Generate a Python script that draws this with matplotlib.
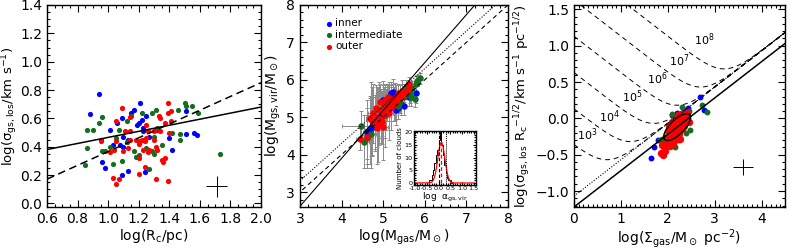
import matplotlib
matplotlib.use('Agg')
import matplotlib.pyplot as plt
import numpy as np
from matplotlib.ticker import MultipleLocator

BLUE = '#0000ff'
GREEN = '#146e1e'
RED = '#ff0000'

# ---- panel 1: sigma vs R_c ----
b1_x = [0.94, 0.88, 1.01, 1.06, 1.09, 1.17, 1.15, 1.21, 1.25, 1.20, 1.22, 1.19, 1.23, 1.23, 1.10, 1.13, 1.08,
        1.10, 1.03, 0.95, 0.96, 0.98, 1.09, 1.13, 1.24, 1.42, 1.40, 1.51, 1.56, 1.58, 1.51, 1.32, 1.27, 1.12]
b1_y = [0.77, 0.63, 0.52, 0.57, 0.60, 0.66, 0.64, 0.71, 0.62, 0.57, 0.59, 0.55, 0.53, 0.51, 0.47, 0.45, 0.41,
        0.40, 0.41, 0.45, 0.29, 0.25, 0.20, 0.23, 0.22, 0.38, 0.46, 0.49, 0.50, 0.48, 0.65, 0.52, 0.47, 0.43]
g1_x = [0.96, 0.94, 0.86, 0.90, 0.86, 0.85, 0.96, 0.98, 1.01, 1.07, 1.12, 1.15, 1.22, 1.29, 1.31, 1.32, 1.17,
        1.18, 1.27, 1.29, 1.30, 1.03, 1.12, 1.21, 1.23, 1.46, 1.50, 1.51, 1.55, 1.59, 1.47, 1.47, 1.42, 1.73,
        1.05, 1.09, 1.25, 1.35, 1.30, 1.20]
g1_y = [0.61, 0.57, 0.52, 0.52, 0.39, 0.27, 0.37, 0.37, 0.40, 0.52, 0.58, 0.62, 0.64, 0.64, 0.66, 0.53, 0.37,
        0.33, 0.24, 0.37, 0.35, 0.28, 0.43, 0.44, 0.45, 0.66, 0.71, 0.69, 0.69, 0.64, 0.49, 0.45, 0.50, 0.35,
        0.46, 0.30, 0.39, 0.41, 0.47, 0.34]
r1_x = [1.09, 1.05, 1.14, 1.11, 1.14, 1.25, 1.26, 1.33, 1.34, 1.37, 1.39, 1.39, 1.41, 1.41, 1.34, 1.30, 1.14,
        1.05, 0.95, 1.01, 1.04, 1.10, 1.13, 1.18, 1.20, 1.22, 1.24, 1.25, 1.30, 1.31, 1.27, 1.23, 1.32, 1.26,
        1.20, 1.24, 1.35, 1.37, 1.36, 1.03, 1.07, 1.05, 1.20, 1.31, 1.39, 1.40]
r1_y = [0.67, 0.58, 0.61, 0.51, 0.51, 0.55, 0.51, 0.62, 0.60, 0.57, 0.71, 0.64, 0.65, 0.58, 0.51, 0.51, 0.45,
        0.44, 0.44, 0.36, 0.38, 0.37, 0.39, 0.45, 0.42, 0.45, 0.44, 0.46, 0.45, 0.40, 0.38, 0.38, 0.38, 0.36,
        0.32, 0.26, 0.31, 0.32, 0.29, 0.18, 0.17, 0.14, 0.21, 0.17, 0.16, 0.50]
fit1_solid = (0.214, 0.252)    # slope, intercept
fit1_dash = (0.486, -0.12)
cross1 = (1.71, 0.12, 0.07, 0.075)

# ---- panel 2: virial mass vs gas mass ----
r2_x = [4.45, 4.62, 4.68, 4.72, 4.80, 4.84, 4.88, 4.90, 4.96, 5.00, 5.02, 5.05, 5.08, 5.10, 5.14, 5.18, 5.20,
        5.24, 5.28, 5.32, 5.36, 5.40, 5.45, 5.50, 5.55, 5.60, 5.62, 4.75, 4.85, 4.95, 5.05, 5.15, 4.92, 5.00,
        5.12, 4.70, 4.82, 5.25, 5.35, 5.45]
r2_y = [4.42, 4.47, 4.97, 4.90, 4.85, 5.01, 4.79, 5.20, 4.88, 5.15, 5.30, 5.05, 5.20, 5.35, 5.40, 5.25, 5.45,
        5.50, 5.42, 5.55, 5.50, 5.60, 5.58, 5.65, 5.70, 5.75, 5.88, 5.10, 4.70, 4.95, 5.45, 5.10, 5.40, 4.75,
        5.55, 4.95, 5.25, 5.35, 5.65, 5.70]
r2_ye = [0.30, 0.60, 0.55, 0.90, 0.70, 0.80, 1.00, 0.75, 0.60, 0.70, 0.50, 0.85, 0.55, 0.45, 0.40, 0.60, 0.35,
         0.40, 0.50, 0.30, 0.35, 0.25, 0.30, 0.25, 0.20, 0.25, 0.20, 0.80, 0.95, 0.65, 0.40, 0.70, 0.50, 0.90,
         0.35, 1.00, 0.60, 0.45, 0.25, 0.30]
r2_xe = [0.10, 0.08, 0.10, 0.12, 0.08, 0.15, 0.10, 0.08, 0.12, 0.10, 0.08, 0.10, 0.08, 0.12, 0.06, 0.08, 0.10,
         0.06, 0.08, 0.06, 0.05, 0.06, 0.05, 0.05, 0.05, 0.04, 0.04, 0.12, 0.10, 0.10, 0.06, 0.08, 0.08, 0.12,
         0.06, 0.10, 0.08, 0.06, 0.05, 0.05]
b2_x = [5.79, 5.58, 5.24, 5.15, 5.00, 5.28, 4.91, 4.68, 4.62, 4.72, 5.35, 5.42, 5.50, 5.10, 4.98, 5.20, 5.62, 5.30]
b2_y = [5.64, 5.68, 5.68, 5.55, 5.46, 5.41, 4.97, 4.66, 4.61, 4.75, 5.25, 5.35, 5.30, 5.35, 5.10, 5.65, 5.55, 5.20]
b2_ye = [0.25, 0.20, 0.35, 0.40, 0.50, 0.35, 0.70, 0.90, 0.85, 0.80, 0.30, 0.30, 0.25, 0.45, 0.60, 0.30, 0.25, 0.40]
b2_xe = [0.05, 0.05, 0.06, 0.08, 0.08, 0.06, 0.10, 0.12, 0.10, 0.10, 0.06, 0.05, 0.05, 0.08, 0.08, 0.06, 0.05, 0.06]
g2_x = [5.82, 5.88, 5.79, 5.68, 5.77, 5.64, 4.47, 4.62, 4.70, 4.80, 5.05, 5.20, 5.35, 5.55, 5.70, 4.95, 5.10,
        5.40, 5.50, 4.55]
g2_y = [5.98, 6.04, 5.90, 5.55, 5.48, 5.64, 4.77, 4.45, 4.55, 4.85, 5.05, 5.30, 5.30, 5.80, 5.78, 5.20, 5.50,
        5.40, 5.55, 4.35]
g2_ye = [0.15, 0.15, 0.20, 0.25, 0.20, 0.25, 0.40, 0.80, 0.90, 0.75, 0.60, 0.40, 0.35, 0.20, 0.20, 0.55, 0.40,
         0.30, 0.25, 0.70]
g2_xe = [0.04, 0.04, 0.05, 0.05, 0.05, 0.05, 0.45, 0.10, 0.12, 0.10, 0.08, 0.06, 0.06, 0.05, 0.04, 0.08, 0.06,
         0.06, 0.05, 0.10]
fit2_solid = (1.28, -1.22)

# inset histogram of log alpha_vir
hist_edges = [-0.42, -0.36, -0.30, -0.24, -0.18, -0.12, -0.06, 0.00, 0.06, 0.12, 0.18, 0.24, 0.30, 0.36,
              0.42, 0.48, 0.54, 0.60]
hist_counts = [1, 1, 3, 5, 8, 11, 13, 17, 20, 15, 11, 7, 4, 2, 1, 1, 0]
gauss_amp, gauss_mu, gauss_sig = 16.0, 0.12, 0.15
vline_black, vline_red, vline_dot = 0.0, 0.12, 0.30
inset_xticks = [-1.0, -0.5, 0.0, 0.5, 1.0, 1.5]
inset_xlabels = ['-1.0', '-0.5', '0.0', '0.5', '1.0', '1.5']

# ---- panel 3: sigma/R^0.5 vs Sigma_gas ----
r3_x = [1.85, 1.90, 1.95, 1.92, 2.00, 2.02, 2.05, 2.08, 2.10, 2.12, 2.15, 2.18, 2.20, 2.22, 2.25, 2.28, 2.30,
        2.32, 2.35, 2.38, 2.40, 2.05, 2.10, 2.15, 2.20, 2.25, 2.30, 2.00, 2.08, 2.18, 2.28, 2.35, 1.98, 2.12,
        2.22, 2.42, 2.03, 2.27, 1.88, 2.45]
r3_y = [-0.48, -0.50, -0.45, -0.40, -0.35, -0.25, -0.30, -0.20, -0.28, -0.15, -0.22, -0.10, -0.18, -0.05,
        -0.12, -0.02, -0.08, 0.05, -0.03, 0.02, 0.08, -0.38, -0.12, -0.30, 0.00, -0.22, -0.15, -0.18, -0.05,
        -0.25, 0.06, -0.10, -0.28, -0.35, 0.04, 0.00, -0.10, -0.28, -0.36, -0.05]
b3_x = [1.64, 1.71, 2.69, 2.78, 2.44, 2.01, 2.19, 2.33, 1.80, 2.35, 2.05, 2.25, 2.10]
b3_y = [-0.54, -0.39, 0.30, 0.115, 0.14, -0.25, 0.07, -0.02, -0.30, 0.12, -0.35, -0.30, 0.05]
g3_x = [2.73, 2.84, 2.30, 2.47, 2.08, 1.83, 1.94, 1.90, 2.40, 2.45, 2.00, 2.15, 1.87, 2.38]
g3_y = [0.18, 0.09, 0.15, -0.16, 0.06, -0.30, -0.25, -0.34, 0.05, 0.10, -0.38, -0.40, -0.28, -0.20]
fit3_solid = (0.5, -1.22)
fit3_dot = (0.5, -1.07)
pressures = [3, 4, 5, 6, 7, 8]
p_label_x = [0.29, 0.75, 1.25, 1.78, 2.25, 2.78]
p_label_y = [-0.23, 0.02, 0.30, 0.55, 0.80, 1.08]
cross3 = (3.61, -0.67, 0.21, 0.11)


def idl_style(ax, xmaj, xmin, ymaj, ymin, fs=10):
    ax.xaxis.set_major_locator(MultipleLocator(xmaj))
    ax.xaxis.set_minor_locator(MultipleLocator(xmin))
    ax.yaxis.set_major_locator(MultipleLocator(ymaj))
    ax.yaxis.set_minor_locator(MultipleLocator(ymin))
    ax.tick_params(which='both', direction='in', top=True, right=True, labelsize=fs, width=0.8)
    ax.tick_params(which='major', length=5)
    ax.tick_params(which='minor', length=2.5)
    for s in ax.spines.values():
        s.set_linewidth(1.0)


fig = plt.figure(figsize=(7.89, 2.52), dpi=100)
plt.rcParams['mathtext.default'] = 'regular'

ax1 = fig.add_axes([0.0596, 0.1786, 0.2712, 0.8016])
ax2 = fig.add_axes([0.3802, 0.1786, 0.2636, 0.8016])
ax3 = fig.add_axes([0.7275, 0.1786, 0.2674, 0.8016])

ms = 14

# panel 1
ax1.scatter(b1_x, b1_y, s=ms, c=BLUE, lw=0, zorder=3)
ax1.scatter(g1_x, g1_y, s=ms, c=GREEN, lw=0, zorder=3)
ax1.scatter(r1_x, r1_y, s=ms, c=RED, lw=0, zorder=3)
xx = np.array([0.6, 2.0])
ax1.plot(xx, fit1_solid[0] * xx + fit1_solid[1], color='k', lw=1.1, zorder=4)
ax1.plot(xx, fit1_dash[0] * xx + fit1_dash[1], color='k', lw=1.1, ls=(0, (5, 3)), zorder=4)
ax1.errorbar([cross1[0]], [cross1[1]], xerr=[cross1[2]], yerr=[cross1[3]], fmt='none', ecolor='k', elinewidth=0.7)
ax1.set_xlim(0.6, 2.0)
ax1.set_ylim(-0.025, 1.4)
idl_style(ax1, 0.2, 0.05, 0.2, 0.05)
ax1.set_xlabel(r'log(R$_c$/pc)', fontsize=10, labelpad=1)
ax1.set_ylabel(r'log($\sigma_{gs,los}$/km s$^{-1}$)', fontsize=9.5, labelpad=0)

# panel 2
for xs, ys, xe, ye in [(r2_x, r2_y, r2_xe, r2_ye), (b2_x, b2_y, b2_xe, b2_ye), (g2_x, g2_y, g2_xe, g2_ye)]:
    ax2.errorbar(xs, ys, xerr=xe, yerr=ye, fmt='none', ecolor='#8a8a8a', elinewidth=0.7, capsize=1.3,
                 capthick=0.7, zorder=2)
ax2.scatter(b2_x, b2_y, s=ms + 8, c=BLUE, lw=0, zorder=3, label='inner')
ax2.scatter(g2_x, g2_y, s=ms + 8, c=GREEN, lw=0, zorder=3, label='intermediate')
ax2.scatter(r2_x, r2_y, s=ms + 8, c=RED, lw=0, zorder=3, label='outer')
xx = np.array([2.5, 8.5])
ax2.plot(xx, fit2_solid[0] * xx + fit2_solid[1], color='k', lw=0.8, zorder=4)
ax2.plot(xx, xx, color='k', lw=0.8, ls=(0, (4, 3)), zorder=4)
ax2.plot(xx, xx + np.log10(2), color='k', lw=0.8, ls=(0, (1, 1.5)), zorder=4)
ax2.set_xlim(3, 8)
ax2.set_ylim(2.6, 8)
idl_style(ax2, 1, 0.2, 1, 0.2)
ax2.set_xlabel(r'log(M$_{gas}$/M$_\odot$)', fontsize=10, labelpad=1)
ax2.set_ylabel(r'log(M$_{gs,vir}$/M$_\odot$)', fontsize=10, labelpad=2)
ax2.legend(loc='upper left', bbox_to_anchor=(0.08, 0.97), frameon=False, fontsize=7.5, handletextpad=0.1,
           borderpad=0.2, labelspacing=0.15, handlelength=1.0, markerscale=0.8)

# inset
axi = fig.add_axes([0.5247, 0.2659, 0.0786, 0.2143])
axi.stairs(hist_counts, hist_edges, color='k', lw=0.7)
gx = np.linspace(-1.0, 1.5, 300)
axi.plot(gx, gauss_amp * np.exp(-0.5 * ((gx - gauss_mu) / gauss_sig) ** 2), color=RED, lw=0.9)
axi.plot([vline_black, vline_black], [0, 20], color='k', lw=0.8, ls=(0, (3, 2)))
axi.plot([vline_red, vline_red], [0, gauss_amp], color=RED, lw=0.9, ls=(0, (3, 2)))
axi.axvline(vline_dot, color='k', lw=0.7, ls=(0, (1, 1)))
axi.set_xlim(-1.05, 1.6)
axi.set_ylim(-0.8, 20.5)
idl_style(axi, 0.5, 0.1, 5, 1, fs=4.6)
axi.tick_params(which='major', length=2.5, pad=1)
axi.tick_params(which='minor', length=1.2)
axi.set_xticks(inset_xticks)
axi.set_xticklabels(inset_xlabels)
axi.set_xlabel(r'log  $\alpha_{gs,vir}$', fontsize=6.5, labelpad=0)
axi.set_ylabel('Number of clouds', fontsize=5, labelpad=1)

# panel 3
sx = np.linspace(0, 4.5, 400)
A = 10 ** (2 * fit3_dot[1])
for lp in pressures:
    sy = 0.5 * np.log10(A * (10 ** sx + 10 ** (lp - 1.6) / 10 ** sx))
    ax3.plot(sx, sy, color='k', lw=0.7, ls=(0, (5, 4)), zorder=2)
for lp, lx, ly in zip(pressures, p_label_x, p_label_y):
    ax3.text(lx, ly, r'10$^{%d}$' % lp, fontsize=8, ha='center', va='center')
xx = np.array([0, 4.5])
ax3.plot(xx, fit3_solid[0] * xx + fit3_solid[1], color='k', lw=1.1, zorder=4)
ax3.plot(xx, fit3_dot[0] * xx + fit3_dot[1], color='k', lw=0.8, ls=(0, (1, 1.5)), zorder=4)
ax3.scatter(b3_x, b3_y, s=ms + 4, c=BLUE, lw=0, zorder=3)
ax3.scatter(g3_x, g3_y, s=ms + 4, c=GREEN, lw=0, zorder=3)
ax3.scatter(r3_x, r3_y, s=ms + 14, c=RED, lw=0, zorder=3)
t = np.linspace(0, 2 * np.pi, 200)
ex = 2.2 + 0.265 * np.cos(t) + 0.107 * np.sin(t)
ey = -0.12 + 0.172 * np.cos(t) - 0.069 * np.sin(t)
ax3.plot(ex, ey, color='k', lw=1.1, zorder=5)
ax3.errorbar([cross3[0]], [cross3[1]], xerr=[cross3[2]], yerr=[cross3[3]], fmt='none', ecolor='k', elinewidth=0.7)
ax3.set_xlim(0, 4.5)
ax3.set_ylim(-1.22, 1.56)
idl_style(ax3, 1, 0.1, 0.5, 0.1)
ax3.set_xticks([0, 1, 2, 3, 4])
ax3.set_xlabel(r'log($\Sigma_{gas}$/M$_\odot$ pc$^{-2}$)', fontsize=10, labelpad=1)
ax3.set_ylabel(r'log($\sigma_{gs,los}$ R$_c$$^{-1/2}$/km s$^{-1}$ pc$^{-1/2}$)', fontsize=9.5, labelpad=2)

fig.savefig('out.png', dpi=100)
